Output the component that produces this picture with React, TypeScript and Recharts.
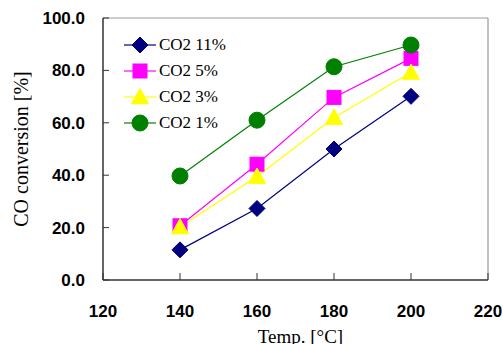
import React from 'react';
import {
  LineChart, Line, XAxis, YAxis, ReferenceLine,
} from 'recharts';

const temps = [140, 160, 180, 200];
const co2_11 = [11.5, 27.3, 50.0, 70.1];
const co2_5 = [20.7, 44.2, 69.7, 84.6];
const co2_3 = [20.2, 39.5, 62.0, 79.2];
const co2_1 = [39.7, 61.0, 81.4, 89.7];

const xTicks = [120, 140, 160, 180, 200, 220];
const yTicks = [0, 20, 40, 60, 80, 100];

const data = temps.map((t, i) => ({
  temp: t,
  c11: co2_11[i],
  c5: co2_5[i],
  c3: co2_3[i],
  c1: co2_1[i],
}));

type Shape = 'diamond' | 'square' | 'triangle' | 'circle';

const series: { key: string; name: string; color: string; shape: Shape }[] = [
  { key: 'c11', name: 'CO2 11%', color: '#000080', shape: 'diamond' },
  { key: 'c5', name: 'CO2 5%', color: '#FF00FF', shape: 'square' },
  { key: 'c3', name: 'CO2 3%', color: '#FFFF00', shape: 'triangle' },
  { key: 'c1', name: 'CO2 1%', color: '#008000', shape: 'circle' },
];

function Marker({ cx, cy, shape, color }: { cx: number; cy: number; shape: Shape; color: string }) {
  if (cx == null || cy == null) return null;
  if (shape === 'diamond') {
    const s = 8;
    return <polygon points={`${cx},${cy - s} ${cx + s},${cy} ${cx},${cy + s} ${cx - s},${cy}`} fill={color} stroke={color} />;
  }
  if (shape === 'square') {
    const s = 7;
    return <rect x={cx - s} y={cy - s} width={2 * s} height={2 * s} fill={color} stroke={color} />;
  }
  if (shape === 'triangle') {
    const s = 8.5;
    return <polygon points={`${cx},${cy - s} ${cx + s},${cy + s * 0.8} ${cx - s},${cy + s * 0.8}`} fill={color} stroke={color} />;
  }
  return <circle cx={cx} cy={cy} r={8} fill={color} stroke={color} />;
}

function LegendBox() {
  return (
    <div style={{ position: 'absolute', left: 124, top: 32, fontFamily: '"Liberation Serif", serif', fontSize: 17, color: '#000' }}>
      {series.map((s) => (
        <div key={s.key} style={{ display: 'flex', alignItems: 'center', height: 26 }}>
          <svg width={32} height={20} style={{ marginRight: 3 }}>
            <line x1={0} y1={10} x2={32} y2={10} stroke={s.color} strokeWidth={1.2} />
            <Marker cx={16} cy={10} shape={s.shape} color={s.color} />
          </svg>
          <span>{s.name}</span>
        </div>
      ))}
    </div>
  );
}

const tickFont = { fontFamily: '"Liberation Sans", Arial, sans-serif', fontSize: 17, fontWeight: 700, fill: '#000' };

export default function App() {
  return (
    <div style={{ position: 'fixed', left: 0, top: 0, width: 503, height: 344, background: '#fff' }}>
      <LineChart width={503} height={344} data={data} margin={{ top: 18, right: 15, bottom: 0, left: 0 }}>
        <XAxis
          type="number"
          dataKey="temp"
          domain={[120, 220]}
          ticks={xTicks}
          allowDataOverflow
          height={64}
          tickSize={-7}
          tickMargin={32}
          tick={tickFont}
          axisLine={{ stroke: '#333', strokeWidth: 1.5 }}
          tickLine={{ stroke: '#333' }}
          label={{
            value: 'Temp. [°C]',
            position: 'insideBottom',
            offset: 1,
            dx: 5,
            style: { fontFamily: '"Liberation Serif", serif', fontSize: 19, fill: '#000' },
          }}
        />
        <YAxis
          type="number"
          domain={[0, 100]}
          ticks={yTicks}
          width={103}
          tickSize={-6}
          tickMargin={24}
          tick={tickFont}
          tickFormatter={(v: number) => v.toFixed(1)}
          axisLine={{ stroke: '#333', strokeWidth: 1.5 }}
          tickLine={{ stroke: '#333' }}
          label={{
            value: 'CO conversion [%]',
            angle: -90,
            position: 'insideLeft',
            offset: 21,
            style: { fontFamily: '"Liberation Serif", serif', fontSize: 20, fill: '#000', textAnchor: 'middle' },
          }}
        />
        <ReferenceLine y={100} stroke="#999" strokeWidth={1.2} />
        <ReferenceLine x={220} stroke="#999" strokeWidth={1.2} />
        {series.map((s) => (
          <Line
            key={s.key}
            dataKey={s.key}
            name={s.name}
            stroke={s.color}
            strokeWidth={1.2}
            isAnimationActive={false}
            dot={(p: any) => <Marker key={`${s.key}-${p.index}`} cx={p.cx} cy={p.cy} shape={s.shape} color={s.color} />}
          />
        ))}
      </LineChart>
      <LegendBox />
    </div>
  );
}
